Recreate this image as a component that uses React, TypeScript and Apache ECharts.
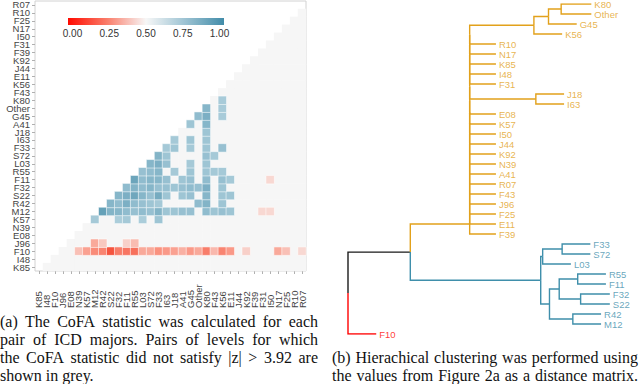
import React, { useEffect, useRef } from 'react';
import * as echarts from 'echarts';

// ---------- Heatmap (CoFA statistic) ----------
const levels = ['K85', 'I48', 'F10', 'J96', 'E08', 'N39', 'K57', 'M12', 'R42', 'S22', 'F32', 'F11', 'R55', 'L03', 'S72', 'F33', 'I63', 'J18', 'A41', 'G45', 'Other', 'K80', 'F43', 'K56', 'E11', 'J44', 'K92', 'F39', 'F31', 'I50', 'N17', 'F25', 'R10', 'R07'];

// significant CoFA values: row level -> [column level, value]
const rowF10: Array<[string, number]> = [['N39', 0.36], ['K57', 0.28], ['M12', 0.22], ['R42', 0.2], ['S22', 0.06], ['F32', 0.18], ['F11', 0.16], ['R55', 0.14], ['L03', 0.3], ['S72', 0.3], ['F33', 0.24], ['I63', 0.26], ['J18', 0.28], ['A41', 0.32], ['G45', 0.26], ['Other', 0.3], ['K80', 0.18], ['F43', 0.34], ['K56', 0.2], ['E11', 0.26], ['K92', 0.4], ['N17', 0.3], ['F25', 0.36], ['R07', 0.42]];
const rowJ96: Array<[string, number]> = [['M12', 0.3], ['R42', 0.38], ['F11', 0.4], ['R55', 0.35]];
const rowK57: Array<[string, number]> = [['M12', 0.76], ['F32', 0.74], ['F11', 0.76], ['L03', 0.74], ['F33', 0.78]];
const rowM12: Array<[string, number]> = [['R42', 0.95], ['S22', 0.86], ['F32', 0.85], ['F11', 0.82], ['R55', 0.8], ['L03', 0.82], ['S72', 0.8], ['F33', 0.86], ['I63', 0.78], ['J18', 0.78], ['A41', 0.8], ['G45', 0.8], ['K80', 0.82], ['F43', 0.78], ['K56', 0.8], ['E11', 0.78], ['F31', 0.42], ['I50', 0.42]];
const rowR42: Array<[string, number]> = [['S22', 0.85], ['F32', 0.82], ['F11', 0.88], ['R55', 0.82], ['L03', 0.8], ['S72', 0.78], ['F33', 0.76], ['Other', 0.82], ['K80', 0.86], ['K56', 0.78]];
const rowS22: Array<[string, number]> = [['F32', 0.85], ['F11', 0.88], ['R55', 0.92], ['L03', 0.85], ['S72', 0.8], ['F33', 0.9], ['I63', 0.78], ['A41', 0.78], ['G45', 0.8], ['K80', 0.85], ['K56', 0.78], ['E11', 0.78]];
const rowF32: Array<[string, number]> = [['F11', 0.82], ['R55', 0.86], ['L03', 0.82], ['S72', 0.85], ['F33', 0.8], ['I63', 0.8], ['J18', 0.78], ['A41', 0.8], ['G45', 0.82], ['Other', 0.8], ['K80', 0.88], ['K56', 0.78]];
const rowF11: Array<[string, number]> = [['R55', 0.93], ['L03', 0.82], ['S72', 0.85], ['F33', 0.85], ['I63', 0.8], ['A41', 0.78], ['G45', 0.8], ['K80', 0.82], ['K56', 0.8], ['E11', 0.76], ['I50', 0.42]];
const rowR55: Array<[string, number]> = [['L03', 0.8], ['S72', 0.82], ['F33', 0.85], ['J18', 0.76], ['G45', 0.78], ['K80', 0.78], ['F43', 0.76], ['K56', 0.76]];
const rowL03: Array<[string, number]> = [['S72', 0.85], ['F33', 0.88], ['I63', 0.8], ['G45', 0.76], ['K80', 0.78]];
const rowS72: Array<[string, number]> = [['F33', 0.86], ['I63', 0.78], ['K80', 0.8], ['F43', 0.76]];
const rowF33: Array<[string, number]> = [['I63', 0.76], ['J18', 0.78], ['G45', 0.76], ['K80', 0.78], ['K56', 0.8]];
const rowI63: Array<[string, number]> = [['J18', 0.76], ['G45', 0.78], ['K80', 0.78]];
const rowJ18: Array<[string, number]> = [['K80', 0.78]];
const rowA41: Array<[string, number]> = [['G45', 0.78], ['K80', 0.85]];
const rowG45: Array<[string, number]> = [['Other', 0.82], ['K80', 0.88], ['K56', 0.75]];
const rowOther: Array<[string, number]> = [['K80', 0.85], ['K56', 0.75]];
const rowK80: Array<[string, number]> = [['K56', 0.75]];

const significantRows: Array<[string, Array<[string, number]>]> = [
  ['F10', rowF10], ['J96', rowJ96], ['K57', rowK57], ['M12', rowM12], ['R42', rowR42], ['S22', rowS22],
  ['F32', rowF32], ['F11', rowF11], ['R55', rowR55], ['L03', rowL03], ['S72', rowS72], ['F33', rowF33],
  ['I63', rowI63], ['J18', rowJ18], ['A41', rowA41], ['G45', rowG45], ['Other', rowOther], ['K80', rowK80],
];

const colorbarTicks = [0, 0.25, 0.5, 0.75, 1];
const colorbarLabels = ['0.00', '0.25', '0.50', '0.75', '1.00'];

// ---------- Dendrogram ----------
const ORANGE = '#e2a11b';
const BLUE = '#3f8fab';
const RED = '#ff0000';
const BLACK = '#1a1a1a';

type Tree = { name?: string; h: number; color: string; children?: Tree[]; y?: number };
const leaf = (name: string, h: number, color: string): Tree => ({ name, h, color });
const node = (h: number, color: string, children: Tree[]): Tree => ({ h, color, children });
const chain = (h: number, color: string, members: Tree[]): Tree =>
  members.slice(1).reduce((acc, m) => node(h, color, [acc, m]), members[0]);

const orangeFlatA = ['R10', 'N17', 'K85', 'I48', 'F31'];
const orangeFlatB = ['E08', 'K57', 'I50', 'J44', 'K92', 'N39', 'A41', 'R07', 'F43', 'J96', 'F25', 'E11', 'F39'];
const orangeFlatDepth = 1.52;

function buildTree(): Tree {
  const flat = (names: string[]) => names.map((n) => leaf(n, orangeFlatDepth, ORANGE));
  return node(0, BLACK, [
    node(0.64, BLACK, [
      chain(1.25, ORANGE, [
        node(1.91, ORANGE, [
          node(2.06, ORANGE, [
            node(2.19, ORANGE, [leaf('K80', 2.5, ORANGE), leaf('Other', 2.5, ORANGE)]),
            leaf('G45', 2.35, ORANGE),
          ]),
          leaf('K56', 2.2, ORANGE),
        ]),
        ...flat(orangeFlatA),
        node(1.93, ORANGE, [leaf('J18', 2.22, ORANGE), leaf('I63', 2.22, ORANGE)]),
        ...flat(orangeFlatB),
      ]),
      node(1.98, BLUE, [
        node(2.0, BLUE, [
          node(2.2, BLUE, [leaf('F33', 2.49, BLUE), leaf('S72', 2.49, BLUE)]),
          leaf('L03', 2.29, BLUE),
        ]),
        node(2.07, BLUE, [
          node(2.17, BLUE, [
            node(2.36, BLUE, [leaf('R55', 2.65, BLUE), leaf('F11', 2.65, BLUE)]),
            node(2.39, BLUE, [leaf('F32', 2.69, BLUE), leaf('S22', 2.69, BLUE)]),
          ]),
          node(2.31, BLUE, [leaf('R42', 2.6, BLUE), leaf('M12', 2.6, BLUE)]),
        ]),
      ]),
    ]),
    leaf('F10', 0.29, RED),
  ]);
}

// ---------- Captions ----------
const captionA = [
  '(a) The CoFA statistic was calculated for each',
  'pair of ICD majors.  Pairs of levels for which',
  'the CoFA statistic did not satisfy |z| > 3.92 are',
  'shown in grey.',
];
const captionB = [
  '(b) Hierachical clustering was performed using',
  'the values from Figure 2a as a distance matrix.',
];

const SERIF = '"Liberation Serif", "DejaVu Serif", serif';
const SANS = '"Liberation Sans", Arial, sans-serif';

function justifiedWords(line: string, x0: number, x1: number, y: number, justify: boolean, ctx: CanvasRenderingContext2D) {
  const words = line.split(/\s+/).filter((w) => w.length);
  const widths = words.map((w) => ctx.measureText(w).width);
  const total = widths.reduce((a, b) => a + b, 0);
  const space = ctx.measureText(' ').width;
  const gap = justify && words.length > 1 ? (x1 - x0 - total) / (words.length - 1) : space;
  const out: any[] = [];
  let x = x0;
  words.forEach((w, i) => {
    out.push({
      type: 'text',
      x,
      y,
      silent: true,
      style: {
        text: w,
        fontSize: 16,
        lineHeight: 15,
        fontFamily: SERIF,
        fill: '#111',
        align: 'left',
        verticalAlign: 'middle',
        textAlign: 'left',
        textVerticalAlign: 'middle',
      },
    });
    x += widths[i] + gap;
  });
  return out;
}

export default function App() {
  const ref = useRef<HTMLDivElement>(null);

  useEffect(() => {
    if (!ref.current) return;
    const chart = echarts.init(ref.current, undefined, { renderer: 'svg' });

    // heatmap data
    const idx = (n: string) => levels.indexOf(n);
    const sigSet = new Set<string>();
    const sigData: number[][] = [];
    significantRows.forEach(([row, cells]) => {
      cells.forEach(([col, v]) => {
        sigData.push([idx(col), idx(row), v]);
        sigSet.add(idx(col) + '_' + idx(row));
      });
    });
    const greyData: number[][] = [];
    for (let r = 0; r < levels.length; r++) {
      for (let c = r + 1; c < levels.length; c++) {
        if (!sigSet.has(c + '_' + r)) greyData.push([c, r, 0.5]);
      }
    }

    // dendrogram layout
    const tree = buildTree();
    let leafIdx = 0;
    const layout = (t: Tree) => {
      if (!t.children) {
        t.y = leafIdx++;
        return;
      }
      t.children.forEach(layout);
      t.y = ((t.children[0].y as number) + (t.children[t.children.length - 1].y as number)) / 2;
    };
    layout(tree);
    const segs: any[] = [];
    const leaves: Tree[] = [];
    const collect = (t: Tree) => {
      if (!t.children) {
        leaves.push(t);
        return;
      }
      t.children.forEach((c) => {
        segs.push({
          coords: [[t.h, t.y], [t.h, c.y], [c.h, c.y]],
          lineStyle: { color: c.color },
        });
        collect(c);
      });
    };
    collect(tree);

    // colorbar
    const cbX = 68, cbY = 18, cbW = 156, cbH = 7, cbPad = 4.5;
    const cbStops = [
      { offset: 0, color: '#ff0a00' },
      { offset: 0.25, color: '#fa7d6a' },
      { offset: 0.5, color: '#f7f7f7' },
      { offset: 0.75, color: '#9dc3d3' },
      { offset: 1, color: '#428ca9' },
    ];
    const graphics: any[] = [
      {
        type: 'rect',
        shape: { x: cbX, y: cbY, width: cbW, height: cbH },
        style: { fill: new echarts.graphic.LinearGradient(0, 0, 1, 0, cbStops) },
        silent: true,
      },
    ];
    colorbarTicks.forEach((t, i) => {
      graphics.push({
        type: 'text',
        x: cbX + cbPad + t * (cbW - 2 * cbPad),
        y: 33,
        silent: true,
        style: {
          text: colorbarLabels[i],
          fontSize: 10,
          fontFamily: SANS,
          fill: '#333',
          align: 'center',
          verticalAlign: 'middle',
          textAlign: 'center',
          textVerticalAlign: 'middle',
        },
      });
    });

    // captions
    const ctx = document.createElement('canvas').getContext('2d') as CanvasRenderingContext2D;
    ctx.font = '16px ' + SERIF;
    const aY = [321, 339, 357, 375];
    captionA.forEach((line, i) => {
      graphics.push(...justifiedWords(line, 0, 318, aY[i], i < captionA.length - 1, ctx));
    });
    const bY = [357, 375];
    captionB.forEach((line, i) => {
      graphics.push(...justifiedWords(line, 332, 638, bY[i], true, ctx));
    });

    const option: any = {
      animation: false,
      backgroundColor: '#ffffff',
      grid: [
        { left: 35, top: 0, width: 271, height: 271, show: true, borderColor: '#d2d2d2', borderWidth: 1, backgroundColor: 'transparent' },
        { left: 348, top: 4, width: 300, height: 330 },
      ],
      xAxis: [
        {
          type: 'category',
          data: levels,
          gridIndex: 0,
          axisLine: { show: false },
          axisTick: { show: true, length: 3, alignWithLabel: true, lineStyle: { color: '#b0b0b0' } },
          axisLabel: { rotate: 90, interval: 0, fontSize: 9.5, lineHeight: 7.5, fontFamily: SANS, color: '#444', align: 'left', margin: 37 },
          splitLine: { show: false },
        },
        { type: 'value', gridIndex: 1, min: 0, max: 3, show: false, splitLine: { show: false } },
      ],
      yAxis: [
        {
          type: 'category',
          data: levels,
          gridIndex: 0,
          axisLine: { show: false },
          axisTick: { show: true, length: 3, alignWithLabel: true, lineStyle: { color: '#b0b0b0' } },
          axisLabel: { interval: 0, fontSize: 9.5, lineHeight: 7.5, fontFamily: SANS, color: '#444', margin: 5 },
          splitLine: { show: false },
        },
        { type: 'value', gridIndex: 1, min: 0, max: 33, inverse: true, show: false, splitLine: { show: false } },
      ],
      visualMap: [
        { type: 'continuous', show: false, seriesIndex: 0, min: 0, max: 1, inRange: { color: ['#f6f6f6', '#f6f6f6'] } },
        {
          type: 'continuous',
          show: false,
          seriesIndex: 1,
          min: 0,
          max: 1,
          inRange: { color: ['#f4402a', '#fa9583', '#f7f7f7', '#a8cbd9', '#5496b0'] },
        },
      ],
      series: [
        {
          type: 'heatmap',
          xAxisIndex: 0,
          yAxisIndex: 0,
          data: greyData,
          silent: true,
          emphasis: { disabled: true },
        },
        {
          type: 'heatmap',
          xAxisIndex: 0,
          yAxisIndex: 0,
          data: sigData,
          silent: true,
          itemStyle: { borderColor: 'rgba(255,255,255,0.75)', borderWidth: 0.7 },
          emphasis: { disabled: true },
        },
        {
          type: 'lines',
          coordinateSystem: 'cartesian2d',
          xAxisIndex: 1,
          yAxisIndex: 1,
          polyline: true,
          silent: true,
          lineStyle: { width: 1.4, opacity: 1 },
          data: segs,
        },
        {
          type: 'scatter',
          xAxisIndex: 1,
          yAxisIndex: 1,
          symbolSize: 0,
          silent: true,
          data: leaves.map((l) => ({ value: [l.h, l.y], name: l.name, label: { color: l.color } })),
          label: { show: true, position: 'right', distance: 3, formatter: '{b}', fontSize: 9.5, fontFamily: SANS },
        },
      ],
      graphic: graphics,
    };
    chart.setOption(option);
    return () => chart.dispose();
  }, []);

  return (
    <div
      ref={ref}
      style={{ position: 'fixed', left: 0, top: 0, width: 640, height: 384, background: '#fff' }}
    />
  );
}
